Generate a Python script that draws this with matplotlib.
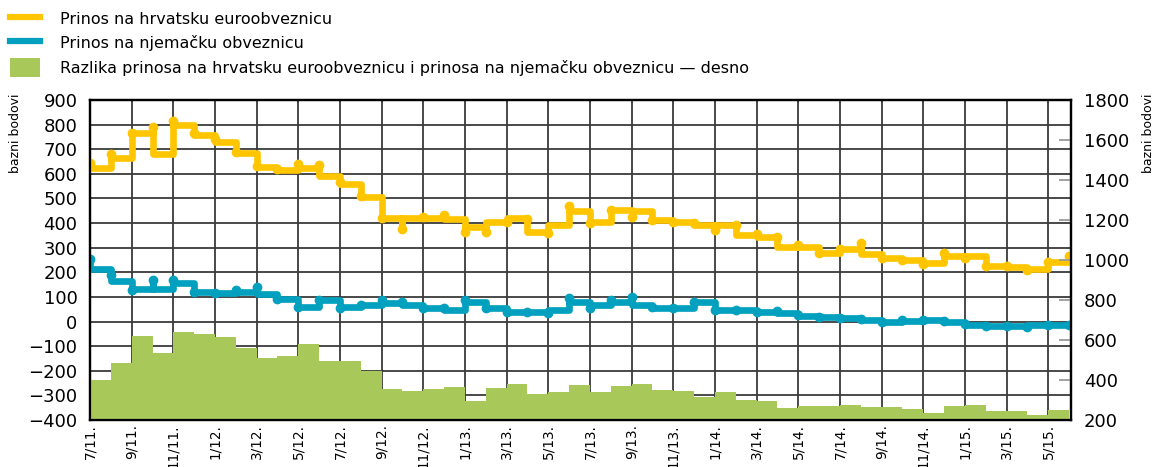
import numpy as np
import matplotlib
matplotlib.use('Agg')
import matplotlib.pyplot as plt
from matplotlib.lines import Line2D
from matplotlib.patches import Patch

# x axis labels, one every two months starting July 2011
month_labels = ['7/11.', '9/11.', '11/11.', '1/12.', '3/12.', '5/12.', '7/12.', '9/12.',
                '11/12.', '1/13.', '3/13.', '5/13.', '7/13.', '9/13.', '11/13.', '1/14.',
                '3/14.', '5/14.', '7/14.', '9/14.', '11/14.', '1/15.', '3/15.', '5/15.']

# Croatian eurobond yield (bps): monthly level and value at the start of each month
hr_level = [622, 665, 765, 682, 800, 757, 728, 683, 627, 615, 622, 590, 560, 505, 420, 420,
            420, 415, 385, 405, 420, 365, 392, 450, 405, 453, 450, 412, 405, 392, 392, 351,
            345, 304, 304, 280, 293, 273, 260, 249, 236, 267, 267, 227, 223, 213, 240]
hr_point = [645, 680, 765, 790, 815, 765, 743, 690, 630, 618, 640, 635, 565, 510, 420, 378,
            426, 432, 365, 365, 405, 415, 358, 470, 399, 453, 426, 412, 405, 400, 372, 392,
            355, 345, 310, 277, 293, 320, 260, 249, 233, 280, 260, 227, 225, 209, 240]
hr_last = 267

# German bond yield (bps)
de_level = [212, 165, 134, 134, 157, 120, 116, 120, 113, 93, 58, 88, 60, 67, 74, 67,
            54, 47, 81, 54, 40, 40, 47, 78, 67, 81, 67, 54, 54, 81, 47, 45,
            40, 34, 23, 20, 16, 7, 0, 3, 7, 0, -13, -17, -17, -13, -13]
de_point = [255, 190, 127, 168, 168, 120, 118, 127, 140, 93, 60, 86, 54, 67, 88, 81,
            54, 54, 88, 54, 40, 40, 34, 95, 54, 88, 101, 60, 54, 81, 47, 47,
            40, 42, 25, 20, 16, 10, 0, 5, 7, 3, -10, -17, -17, -23, -13]
de_last = -13

# spread (right axis, bps)
spread = [398, 487, 620, 537, 642, 630, 617, 558, 508, 519, 582, 496, 494, 445, 357, 345,
          357, 365, 295, 360, 381, 328, 339, 373, 339, 368, 378, 351, 344, 314, 342, 301,
          294, 259, 272, 269, 277, 267, 264, 255, 234, 272, 275, 243, 243, 227, 251]

yellow = '#FFC600'
teal = '#00A0BE'
green = '#A8C85A'


def stair(points, levels, last):
    xs, ys = [], []
    for i, (p, v) in enumerate(zip(points, levels)):
        xs += [i, i, i + 1]
        ys += [p, v, v]
    xs.append(len(levels))
    ys.append(last)
    return xs, ys


plt.rcParams['font.family'] = 'DejaVu Sans'
fig = plt.figure(figsize=(11.57, 4.67), dpi=100)
ax = fig.add_axes([0.0778, 0.1006, 0.848, 0.6852])
ax2 = ax.twinx()

ax.set_xlim(0, 47.1)
ax.set_ylim(-400, 900)
ax.set_yticks(range(-400, 901, 100))
ax.set_xticks(range(0, 47, 2))
ax.set_xticklabels(month_labels, rotation=90, fontsize=9.8)
ax.grid(True, color='#3a3a3a', lw=1.3)
ax.set_axisbelow(True)
ax.tick_params(axis='y', length=0, pad=9, labelsize=13)
ax.tick_params(axis='x', length=0, pad=3)

for pts, lev, last, col in [(hr_point, hr_level, hr_last, yellow),
                            (de_point, de_level, de_last, teal)]:
    xs, ys = stair(pts, lev, last)
    ax.plot(xs, ys, color=col, lw=4.8, solid_joinstyle='round', solid_capstyle='round', zorder=3)
    ax.plot(list(range(len(pts))) + [len(pts)], pts + [last], 'o', color=col, ms=6, zorder=3)

xs = np.arange(len(spread) + 1)
ax2.fill_between(xs, spread + [spread[-1]], 200, step='post', color=green, lw=0)
ax2.set_ylim(200, 1800)
ax2.set_yticks(range(200, 1801, 200))
ax2.tick_params(axis='y', direction='in', length=9, width=1.3, color='#9a9a9a', pad=9, labelsize=13)

for a in (ax, ax2):
    for s in a.spines.values():
        s.set_color('black')
        s.set_linewidth(1.6)

fig.text(0.013, 0.80, 'bazni bodovi', rotation=90, va='top', ha='center', fontsize=9)
fig.text(0.9925, 0.80, 'bazni bodovi', rotation=90, va='top', ha='center', fontsize=9)

handles = [Line2D([], [], color=yellow, lw=4.5),
           Line2D([], [], color=teal, lw=4.5),
           Patch(color=green, lw=0)]
labels = ['Prinos na hrvatsku euroobveznicu',
          'Prinos na njemačku obveznicu',
          'Razlika prinosa na hrvatsku euroobveznicu i prinosa na njemačku obveznicu \u2014 desno']
fig.legend(handles, labels, loc='upper left', bbox_to_anchor=(0.003, 0.994), frameon=False,
           fontsize=11.5, handlelength=1.9, handleheight=1.5, labelspacing=0.3,
           handletextpad=1.25, borderaxespad=0)

fig.savefig('out.png', dpi=100)
